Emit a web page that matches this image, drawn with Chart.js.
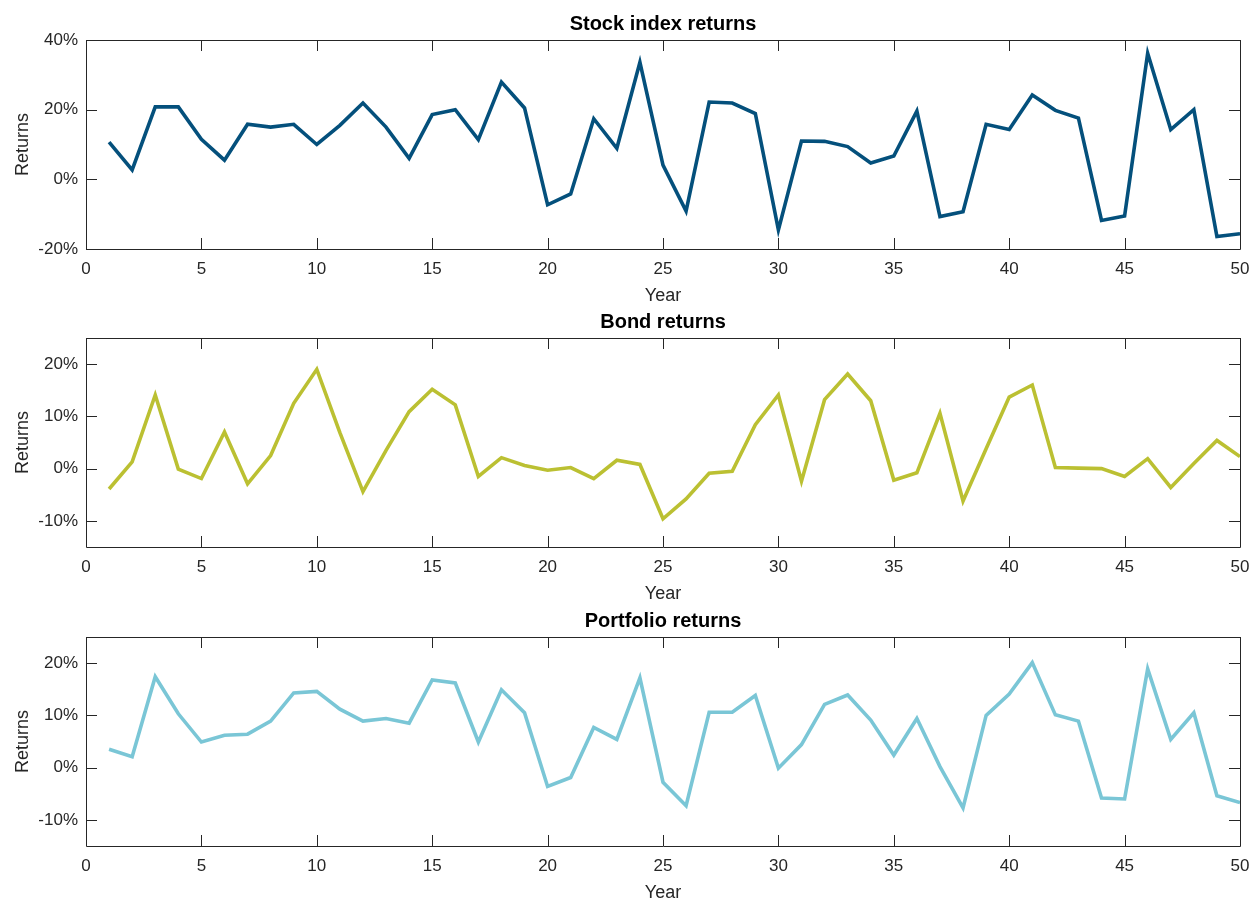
<!DOCTYPE html>
<html>
<head>
<meta charset="utf-8">
<script src="https://cdn.jsdelivr.net/npm/chart.js@4.4.1/dist/chart.umd.min.js"></script>
<style>
  body { margin: 0; background: #fff; width: 1254px; height: 900px; position: relative; overflow: hidden; }
  .panel { position: absolute; left: 0; width: 1254px; height: 310px; }
</style>
</head>
<body>
<div class="panel" style="top:0px"><canvas id="chartStock"></canvas></div>
<div class="panel" style="top:298px"><canvas id="chartBond"></canvas></div>
<div class="panel" style="top:597px"><canvas id="chartPortfolio"></canvas></div>
<script>
// data (returns in %)
var years = [1, 2, 3, 4, 5, 6, 7, 8, 9, 10, 11, 12, 13, 14, 15, 16, 17, 18, 19, 20,
             21, 22, 23, 24, 25, 26, 27, 28, 29, 30, 31, 32, 33, 34, 35, 36, 37, 38, 39, 40,
             41, 42, 43, 44, 45, 46, 47, 48, 49, 50];

var stockReturns = [10.7, 2.7, 20.8, 20.8, 11.5, 5.5, 15.8, 15.0, 15.8, 10.0,
                    15.5, 21.9, 15.0, 6.0, 18.6, 20.0, 11.4, 27.9, 20.5, -7.3,
                    -4.2, 17.4, 8.9, 33.6, 4.1, -9.1, 22.2, 21.9, 18.9, -14.5,
                    11.0, 10.9, 9.4, 4.7, 6.7, 19.6, -10.7, -9.3, 15.8, 14.3,
                    24.2, 19.8, 17.6, -11.8, -10.5, 36.2, 14.3, 20.0, -16.4, -15.6];

var bondReturns = [-3.9, 1.3, 14.1, -0.1, -1.9, 7.0, -2.9, 2.5, 12.5, 19.0,
                   6.9, -4.4, 3.5, 10.9, 15.2, 12.2, -1.5, 2.1, 0.6, -0.3,
                   0.2, -1.9, 1.6, 0.8, -9.6, -5.8, -0.9, -0.5, 8.4, 14.1,
                   -2.4, 13.2, 18.1, 13.0, -2.2, -0.8, 10.6, -6.2, 3.8, 13.7,
                   16.0, 0.2, 0.1, 0.0, -1.5, 1.9, -3.6, 1.0, 5.4, 2.3];

var portfolioReturns = [3.5, 2.1, 17.4, 10.3, 4.9, 6.2, 6.4, 8.9, 14.3, 14.6,
                        11.2, 8.9, 9.4, 8.5, 16.8, 16.2, 4.9, 14.9, 10.5, -3.6,
                        -1.9, 7.7, 5.4, 17.2, -2.8, -7.3, 10.6, 10.6, 13.8, -0.1,
                        4.4, 12.1, 13.9, 9.1, 2.4, 9.4, 0.2, -7.7, 10.0, 14.1,
                        20.1, 10.1, 8.9, -5.8, -6.0, 18.9, 5.4, 10.5, -5.4, -6.7];

var xTicks = [0, 5, 10, 15, 20, 25, 30, 35, 40, 45, 50];
var stockTicks = [-20, 0, 20, 40];
var bondTicks = [-10, 0, 10, 20];
var portfolioTicks = [-10, 0, 10, 20];

var axisColor = '#262626';
var fontFamily = '"Liberation Sans", Arial, Helvetica, sans-serif';

// matlab style box with inward tick marks
var boxTicks = {
    id: 'boxTicks',
    afterDraw: function (chart) {
        var ctx = chart.ctx;
        var a = chart.chartArea;
        var xs = chart.scales.x, ys = chart.scales.y;
        var len = 11;
        ctx.save();
        ctx.strokeStyle = axisColor;
        ctx.lineWidth = 1;
        ctx.beginPath();
        ctx.rect(Math.round(a.left) + 0.5, Math.round(a.top) + 0.5,
                 Math.round(a.right - a.left), Math.round(a.bottom - a.top));
        xs.ticks.forEach(function (t) {
            var px = Math.round(xs.getPixelForValue(t.value)) + 0.5;
            ctx.moveTo(px, a.bottom);
            ctx.lineTo(px, a.bottom - len);
            ctx.moveTo(px, a.top);
            ctx.lineTo(px, a.top + len);
        });
        ys.ticks.forEach(function (t) {
            var py = Math.round(ys.getPixelForValue(t.value)) + 0.5;
            ctx.moveTo(a.left, py);
            ctx.lineTo(a.left + len, py);
            ctx.moveTo(a.right, py);
            ctx.lineTo(a.right - len, py);
        });
        ctx.stroke();
        ctx.restore();
    }
};

function makeChart(id, title, values, color, yMin, yMax, yTicks) {
    var ctx = document.getElementById(id).getContext('2d');
    return new Chart(ctx, {
        type: 'line',
        data: {
            datasets: [{
                label: title,
                data: years.map(function (yr, i) { return { x: yr, y: values[i] }; }),
                borderColor: color,
                borderWidth: 3.6,
                pointRadius: 0,
                tension: 0,
                fill: false
            }]
        },
        options: {
            responsive: true,
            maintainAspectRatio: false,
            animation: false,
            layout: { padding: { left: 0, right: 14, top: 0, bottom: 0 } },
            plugins: {
                legend: { display: false },
                tooltip: { enabled: false },
                title: {
                    display: true,
                    fullSize: false, // centre over the plot area
                    text: title,
                    color: '#000',
                    font: { family: fontFamily, size: 20, weight: 'bold' },
                    padding: { top: 12, bottom: 4 }
                }
            },
            scales: {
                x: {
                    type: 'linear',
                    min: 0,
                    max: 50,
                    afterBuildTicks: function (s) { s.ticks = xTicks.map(function (v) { return { value: v }; }); },
                    afterFit: function (s) {
                        s.height = 61;
                        s.paddingLeft = 0;
                        s.paddingRight = 0;
                    },
                    grid: { display: false },
                    border: { display: false },
                    ticks: { color: axisColor, padding: 2, maxRotation: 0, font: { family: fontFamily, size: 17 } },
                    title: {
                        display: true, text: 'Year', color: axisColor,
                        font: { family: fontFamily, size: 18 },
                        padding: { top: 0, bottom: 3 }
                    }
                },
                y: {
                    min: yMin,
                    max: yMax,
                    afterBuildTicks: function (s) { s.ticks = yTicks.map(function (v) { return { value: v }; }); },
                    afterFit: function (s) { s.width = 86; },
                    grid: { display: false },
                    border: { display: false },
                    ticks: {
                        color: axisColor, padding: 0,
                        font: { family: fontFamily, size: 17 },
                        callback: function (v) { return v + '%'; }
                    },
                    title: {
                        display: true, text: 'Returns', color: axisColor,
                        font: { family: fontFamily, size: 18 },
                        padding: { top: 12, bottom: 0 }
                    }
                }
            }
        },
        plugins: [boxTicks]
    });
}

document.addEventListener('DOMContentLoaded', function () {
    makeChart('chartStock', 'Stock index returns', stockReturns, 'rgb(4, 80, 124)', -20, 40, stockTicks);
    makeChart('chartBond', 'Bond returns', bondReturns, 'rgb(187, 192, 50)', -15, 25, bondTicks);
    makeChart('chartPortfolio', 'Portfolio returns', portfolioReturns, 'rgb(122, 198, 214)', -15, 25, portfolioTicks);
});
</script>
</body>
</html>
